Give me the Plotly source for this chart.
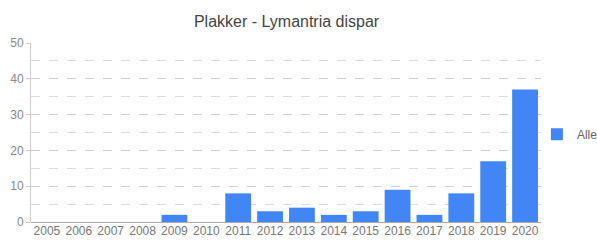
import plotly.graph_objects as go

years = ["2005", "2006", "2007", "2008", "2009", "2010", "2011", "2012",
         "2013", "2014", "2015", "2016", "2017", "2018", "2019", "2020"]
counts = [0, 0, 0, 0, 2, 0, 8, 3, 4, 2, 3, 9, 2, 8, 17, 37]
series_name = "Alle"
title_text = "Plakker - Lymantria dispar"

fig = go.Figure()
fig.add_trace(go.Bar(
    x=years, y=counts, name=series_name,
    marker=dict(color="#4285f4", line=dict(width=0)),
    showlegend=True,
))

fig.update_layout(
    width=597, height=242,
    margin=dict(l=31, r=56, t=43, b=20, autoexpand=False),
    paper_bgcolor="white", plot_bgcolor="white",
    font=dict(family="Liberation Sans, Arial, sans-serif", color="#777", size=12),
    title=dict(text=title_text, x=0.48, xanchor="center", y=0.91, yanchor="middle",
               font=dict(size=16, color="#444")),
    bargap=0.19,
    showlegend=True,
    legend=dict(x=0.992, xanchor="left", y=0.49, yanchor="middle",
                font=dict(size=12, color="#666"), itemwidth=30,
                bgcolor="rgba(0,0,0,0)"),
    xaxis=dict(type="category", showgrid=False, showline=False, ticks="",
               tickfont=dict(size=12, color="#777"), fixedrange=True),
    yaxis=dict(range=[0, 50], dtick=10, showgrid=True, gridcolor="#cfcfcf",
               griddash="dash", gridwidth=1,
               minor=dict(dtick=5, showgrid=True, gridcolor="#dcdcdc", griddash="dash"),
               zeroline=True, zerolinecolor="#aaa", zerolinewidth=1,
               showline=True, linecolor="#ccc", ticks="outside", ticklen=4,
               tickcolor="#ccc", tickfont=dict(size=12, color="#888")),
)

fig.write_html("out.html", config={"displayModeBar": False},
               post_script="document.body.style.margin='0';")
